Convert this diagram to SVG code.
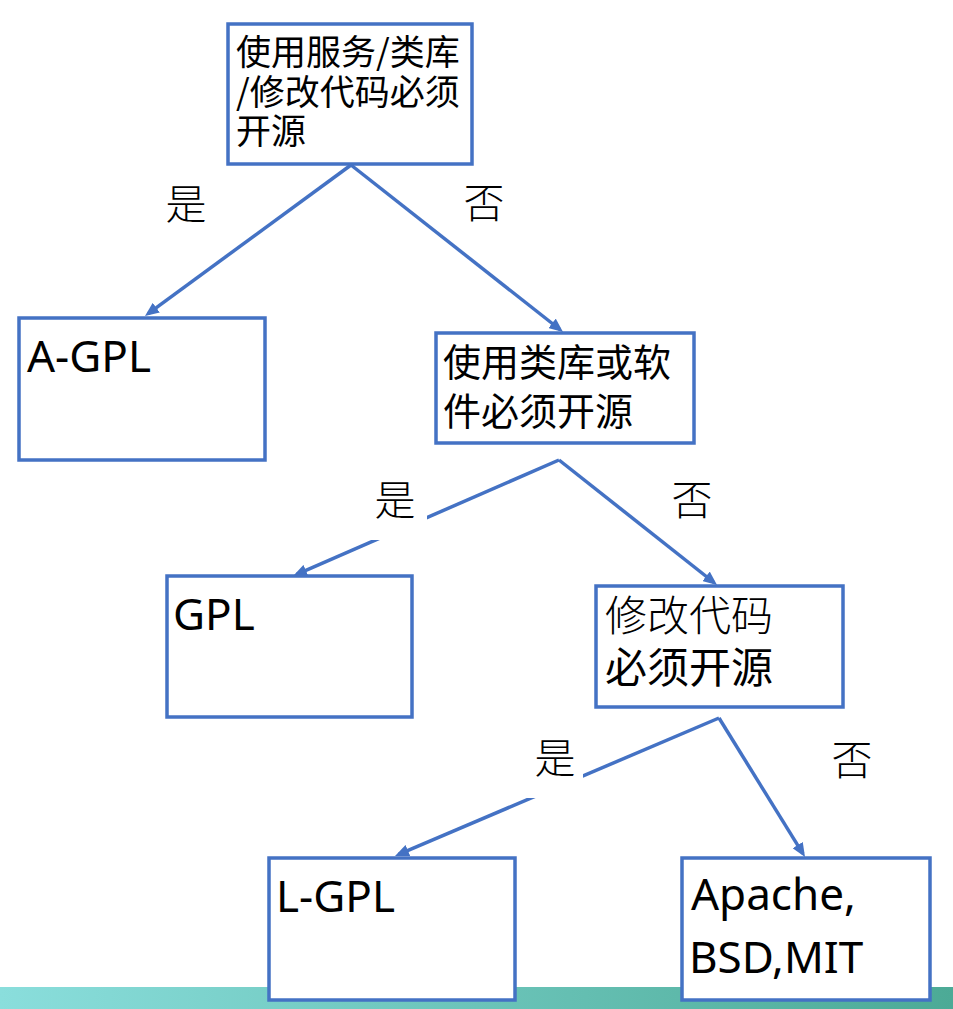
<svg xmlns="http://www.w3.org/2000/svg" width="953" height="1009" viewBox="0 0 953 1009">
<style>
.box{fill:#ffffff;stroke:#4472C4;stroke-width:3.5}
.con{stroke:#4472C4;stroke-width:3.5;fill:none;marker-end:url(#arr)}
.cjk{font-family:"Noto Sans CJK SC","Noto Sans",sans-serif;fill:#000}
.lat{font-family:"Noto Sans","Open Sans",sans-serif;font-size:44px;fill:#000}
.lbl{font-family:"Noto Sans CJK SC",sans-serif;font-size:41px;font-weight:300;fill:#000;text-anchor:middle}
.bg{fill:#ffffff}
</style>
<defs>
<linearGradient id="bar" x1="0" y1="0" x2="1" y2="0">
<stop offset="0" stop-color="#8ADEDC"/>
<stop offset="1" stop-color="#4CAA96"/>
</linearGradient>
<marker id="arr" markerUnits="userSpaceOnUse" viewBox="0 0 14 12" markerWidth="14" markerHeight="12" refX="10" refY="6" orient="auto">
<path d="M0,0 L14,6 L0,12 z" fill="#4472C4"/>
</marker>
</defs>
<rect x="0" y="987" width="953" height="22" fill="url(#bar)"/>
<g id="connectors">
<line class="con" x1="351" y1="165" x2="148.2" y2="313.6"/>
<line class="con" x1="351" y1="165" x2="559.9" y2="329.5"/>
<line class="con" x1="559" y1="460" x2="296.7" y2="574.4"/>
<line class="con" x1="559" y1="460" x2="713.9" y2="582.5"/>
<line class="con" x1="719" y1="718" x2="398.7" y2="854.4"/>
<line class="con" x1="719" y1="718" x2="802.9" y2="853.6"/>
</g>
<g id="labels">
<text class="lbl" x="186" y="219">是</text>
<text class="lbl" x="484" y="218">否</text>
<rect class="bg" x="365" y="470" width="62" height="70"/>
<text class="lbl" x="395" y="515">是</text>
<text class="lbl" x="692" y="515">否</text>
<rect class="bg" x="522" y="728" width="61" height="70"/>
<text class="lbl" x="555" y="773">是</text>
<text class="lbl" x="852" y="775">否</text>
</g>
<g id="n1">
<rect class="box" x="228" y="24" width="244" height="140"/>
<text class="cjk" font-size="35" x="236"><tspan x="236" y="64.5">使用服务/类库</tspan><tspan x="236" y="105">/修改代码必须</tspan><tspan x="236" y="144">开源</tspan></text>
</g>
<g id="n-agpl">
<rect class="box" x="19" y="318" width="246" height="142"/>
<text class="lat" x="27" y="372">A-GPL</text>
</g>
<g id="n2">
<rect class="box" x="436" y="333" width="258" height="110"/>
<text class="cjk" font-size="38"><tspan x="443" y="375.5">使用类库或软</tspan><tspan x="443" y="424.5">件必须开源</tspan></text>
</g>
<g id="n-gpl">
<rect class="box" x="167" y="576" width="245" height="141"/>
<text class="lat" x="173" y="630">GPL</text>
</g>
<g id="n3">
<rect class="box" x="596" y="586" width="247" height="121"/>
<text class="cjk" font-size="42"><tspan x="605" y="631" font-weight="300">修改代码</tspan><tspan x="605" y="683">必须开源</tspan></text>
</g>
<g id="n-lgpl">
<rect class="box" x="269" y="858" width="246" height="142"/>
<text class="lat" x="276" y="912">L-GPL</text>
</g>
<g id="n-perm">
<rect class="box" x="682" y="858" width="248" height="142"/>
<text class="lat"><tspan x="691" y="910">Apache,</tspan><tspan x="689" y="973">BSD,MIT</tspan></text>
</g>
</svg>
